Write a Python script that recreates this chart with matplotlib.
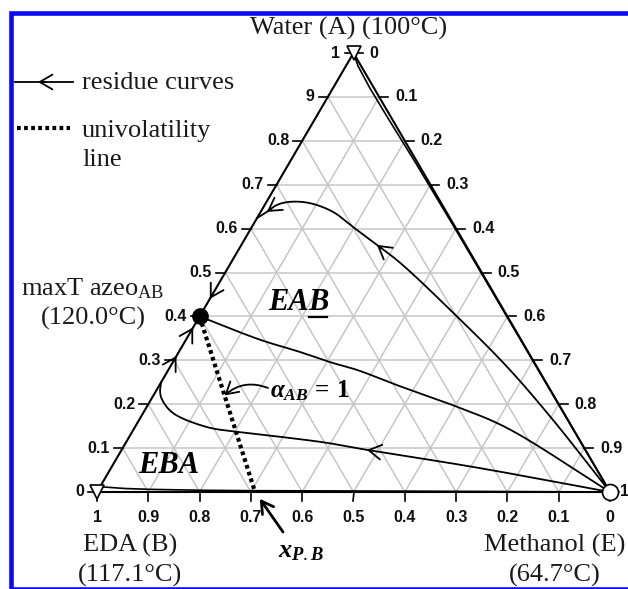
import numpy as np
import matplotlib
matplotlib.use("Agg")
import matplotlib.pyplot as plt
from matplotlib.lines import Line2D
from matplotlib.patches import Rectangle

plt.rcParams['mathtext.fontset'] = 'custom'
plt.rcParams['mathtext.rm'] = 'Liberation Serif'
plt.rcParams['mathtext.it'] = 'Liberation Serif:italic:bold'
plt.rcParams['mathtext.bf'] = 'Liberation Serif:bold'

# ---------------- data (mole fractions) ----------------
tick_values = [0.0, 0.1, 0.2, 0.3, 0.4, 0.5, 0.6, 0.7, 0.8, 0.9, 1.0]
left_tick_labels = ['0', '0.1', '0.2', '0.3', '0.4', '0.5', '0.6', '0.7', '0.8', '9', '1']     # water x_A
right_tick_labels = ['0', '0.1', '0.2', '0.3', '0.4', '0.5', '0.6', '0.7', '0.8', '0.9', '1']  # methanol x_E
bottom_tick_labels = ['0', '0.1', '0.2', '0.3', '0.4', '0.5', '0.6', '0.7', '0.8', '0.9', '1']  # EDA x_B
grid_values = [0.1, 0.2, 0.3, 0.4, 0.5, 0.6, 0.7, 0.8, 0.9]

# residue curve 1 : methanol -> near water -> A-B edge
rc1_xA = [0.0, 0.164, 0.285, 0.399, 0.522, 0.563, 0.597, 0.638, 0.658, 0.661, 0.654, 0.638, 0.624]
rc1_xE = [1.0, 0.807, 0.657, 0.503, 0.330, 0.264, 0.208, 0.141, 0.086, 0.046, 0.024, 0.012, 0.0]
# residue curve 2 : azeotrope <- methanol
rc2_xA = [0.40, 0.347, 0.319, 0.296, 0.278, 0.241, 0.194, 0.146, 0.0]
rc2_xE = [0.0, 0.144, 0.236, 0.306, 0.368, 0.470, 0.605, 0.726, 1.0]
# residue curve 3 : methanol -> EBA region -> A-B edge
rc3_xA = [0.0, 0.057, 0.096, 0.112, 0.123, 0.137, 0.148, 0.180, 0.210, 0.228, 0.250]
rc3_xE = [1.0, 0.705, 0.478, 0.392, 0.315, 0.205, 0.140, 0.058, 0.022, 0.009, 0.0]
# residue curve 4 : hugging the A-E edge
rc4_xA = [0.0, 0.3, 0.6, 0.75, 0.85, 0.92, 0.97, 1.0]
rc4_xB = [0.0, 0.001, 0.002, 0.004, 0.007, 0.008, 0.006, 0.0]
# residue curve 5 : hugging the B-E edge
rc5_xE = [1.0, 0.6, 0.3, 0.2, 0.1, 0.05, 0.0]
rc5_xA = [0.0, 0.002, 0.003, 0.004, 0.006, 0.008, 0.012]

# arrows on the A-B edge (x_A position, +1 = towards A, -1 = towards B)
edge_arrow_xA = [0.31, 0.375, 0.44]
edge_arrow_dir = [1, 1, -1]

azeo_xA = 0.40          # maxT azeotrope A-B
univ_start_xA = 0.40    # univolatility line start on A-B edge
univ_end_xB = 0.692     # x_P,B on B-E edge

H = np.sqrt(3) / 2


def cart(xA, xE):
    xA = np.asarray(xA, float)
    xE = np.asarray(xE, float)
    return xE + 0.5 * xA, xA * H


def catmull(px, py, n=25):
    pts = np.column_stack([px, py])
    P = np.vstack([2 * pts[0] - pts[1], pts, 2 * pts[-1] - pts[-2]])
    out = []
    for i in range(1, len(P) - 2):
        p0, p1, p2, p3 = P[i - 1], P[i], P[i + 1], P[i + 2]
        t0 = 0.0
        t1 = t0 + np.linalg.norm(p1 - p0) ** 0.5
        t2 = t1 + np.linalg.norm(p2 - p1) ** 0.5
        t3 = t2 + np.linalg.norm(p3 - p2) ** 0.5
        t = np.linspace(t1, t2, n)[:, None]
        A1 = (t1 - t) / (t1 - t0) * p0 + (t - t0) / (t1 - t0) * p1
        A2 = (t2 - t) / (t2 - t1) * p1 + (t - t1) / (t2 - t1) * p2
        A3 = (t3 - t) / (t3 - t2) * p2 + (t - t2) / (t3 - t2) * p3
        B1 = (t2 - t) / (t2 - t0) * A1 + (t - t0) / (t2 - t0) * A2
        B2 = (t3 - t) / (t3 - t1) * A2 + (t - t1) / (t3 - t1) * A3
        C = (t2 - t) / (t2 - t1) * B1 + (t - t1) / (t2 - t1) * B2
        out.append(C if i == 1 else C[1:])
    out = np.vstack(out)
    return out[:, 0], out[:, 1]


W, Hpx = 628, 589
fig = plt.figure(figsize=(W / 100, Hpx / 100), dpi=100)
fig.patch.set_facecolor('white')
ax = fig.add_axes([97 / W, 1 - 492 / Hpx, 513 / W, 439 / Hpx])
ax.set_xlim(0, 1)
ax.set_ylim(0, H)
ax.axis('off')


def fp(px, py):
    return (px / W, 1 - py / Hpx)


def off(pt, dx, dy):
    d = ax.transData.transform(pt) + np.array([dx, dy])
    return ax.transData.inverted().transform(d)


GRID = '#c6c6c6'
# grid
for v in grid_values:
    for (a1, e1, a2, e2) in [(v, 0, v, 1 - v), (0, v, 1 - v, v), (0, 1 - v, 1 - v, 0)]:
        x, y = cart([a1, a2], [e1, e2])
        ax.plot(x, y, color=GRID, lw=1.1, zorder=1, solid_capstyle='butt')

# triangle edges
x, y = cart([0, 1, 0, 0], [0, 0, 1, 0])
ax.plot(x, y, color='black', lw=1.5, zorder=3, clip_on=False)

TF = dict(family='Liberation Sans', fontsize=11.5, weight='bold', color='#111111')
# ticks and tick labels
for v, lab in zip(tick_values, left_tick_labels):
    p = np.array(cart(v, 0.0))
    q = off(p, -9, 0)
    ax.plot([p[0], q[0]], [p[1], q[1]], color='black', lw=1.2, clip_on=False)
    ax.annotate(lab, xy=p, xytext=(-13, 0), textcoords='offset pixels',
                ha='right', va='center', annotation_clip=False, **TF)
for v, lab in zip(tick_values, right_tick_labels):
    p = np.array(cart(1 - v, v))
    q = off(p, 9, 0)
    ax.plot([p[0], q[0]], [p[1], q[1]], color='black', lw=1.2, clip_on=False)
    dx = 16 if v < 1.0 else 10
    ax.annotate(lab, xy=p, xytext=(dx, 0), textcoords='offset pixels',
                ha='left', va='center', annotation_clip=False, **TF)
for v, lab in zip(tick_values, bottom_tick_labels):
    p = np.array(cart(0.0, 1 - v))
    q = off(p, 0, -9)
    ax.plot([p[0], q[0]], [p[1], q[1]], color='black', lw=1.2, clip_on=False)
    ax.annotate(lab, xy=p, xytext=(0, -25), textcoords='offset pixels',
                ha='center', va='center', annotation_clip=False, **TF)

AR = dict(arrowstyle='->,head_length=0.65,head_width=0.38', color='black',
          lw=1.3, shrinkA=0, shrinkB=0, mutation_scale=14)


def chevron(tip, back):
    ax.annotate('', xy=tip, xytext=back, arrowprops=AR, annotation_clip=False, zorder=6)


# residue curves
curves = []
for xa, xe in [(rc1_xA, rc1_xE), (rc2_xA, rc2_xE), (rc3_xA, rc3_xE)]:
    cx, cy = cart(xa, xe)
    sx, sy = catmull(cx, cy)
    ax.plot(sx, sy, color='black', lw=1.3, zorder=4, clip_on=False)
    curves.append((cx, cy))

rc4_xE = [1 - a - b for a, b in zip(rc4_xA, rc4_xB)]
x, y = cart(rc4_xA, rc4_xE)
ax.plot(x, y, color='black', lw=1.2, zorder=4, clip_on=False)
x, y = cart(rc5_xA, rc5_xE)
ax.plot(x, y, color='black', lw=1.2, zorder=4, clip_on=False)

# arrows on residue curves (at data points, pointing in curve direction)
for ci, idx in [(0, 5), (0, 11), (2, 2)]:
    cx, cy = curves[ci]
    tip = (cx[idx], cy[idx])
    back = (cx[idx - 1], cy[idx - 1])
    b = np.array(back) - np.array(tip)
    b = np.array(tip) + b / np.linalg.norm(b) * 0.01
    chevron(tip, b)

for a, d in zip(edge_arrow_xA, edge_arrow_dir):
    tip = cart(a, 0.0)
    back = cart(a - 0.01 * d, 0.0)
    chevron(tip, back)

# univolatility line
DOT = (0, (0.9, 0.8))
ux, uy = cart([univ_start_xA, 0.0], [0.0, 1 - univ_end_xB])
ax.plot(ux, uy, color='black', lw=3.0, linestyle=DOT, zorder=5,
        dash_capstyle='butt', clip_on=False)

# vertex / azeotrope markers
x, y = cart(1.0, 0.0)
ax.plot(x, y, marker='v', ms=10, mfc='white', mec='black', mew=1.2, zorder=8, clip_on=False)
x, y = cart(0.0, 0.0)
ax.plot(x, y, marker='v', ms=10, mfc='white', mec='black', mew=1.2, zorder=8, clip_on=False)
x, y = cart(0.0, 1.0)
ax.plot(x, y, marker='o', ms=11.5, mfc='white', mec='black', mew=1.2, zorder=8, clip_on=False)
x, y = cart(azeo_xA, 0.0)
ax.plot(x, y, marker='o', ms=11, mfc='black', mec='black', zorder=8, clip_on=False)

# annotations
SER = dict(family='Liberation Serif', fontsize=19, color='#1a1a1a')
p_alpha = np.array(cart(univ_start_xA, 0.0)) * (1 - 0.45) + np.array(cart(0.0, 1 - univ_end_xB)) * 0.45
ax.annotate('', xy=p_alpha, xytext=(268, Hpx - 388), textcoords='figure pixels',
            arrowprops=dict(arrowstyle='->,head_length=0.6,head_width=0.35', lw=1.3, color='black',
                            shrinkA=0, shrinkB=0, mutation_scale=14,
                            connectionstyle='arc3,rad=0.3'), zorder=7)
fig.text(*fp(270, 397), r'$\alpha_{AB}\,\mathbf{=\,1}$', ha='left', va='baseline',
         fontsize=18, color='black')

pend = cart(0.0, 1 - univ_end_xB)
ax.annotate('', xy=pend, xytext=(28, -40), textcoords='offset pixels',
            arrowprops=dict(arrowstyle='->,head_length=0.6,head_width=0.35', lw=2.0, color='black',
                            shrinkA=0, shrinkB=6, mutation_scale=14), annotation_clip=False)
fig.text(*fp(278, 557), r'$x_{P.B}$', ha='left', va='baseline', fontsize=19, color='black')

# region labels
BI = dict(family='Liberation Serif', fontsize=22, weight='bold', style='italic', color='black')
fig.text(*fp(138, 473), 'EBA', ha='left', va='baseline', **BI)
r = fig.canvas.get_renderer()
t1 = fig.text(*fp(268, 310), 'EA', ha='left', va='baseline', **BI)
bb1 = t1.get_window_extent(r)
t2 = fig.text(bb1.x1 / W, 1 - 310 / Hpx, 'B', ha='left', va='baseline', **BI)
bb2 = t2.get_window_extent(r)
fig.add_artist(Line2D([bb2.x0 / W, (bb2.x1 - 2) / W], [1 - 317 / Hpx, 1 - 317 / Hpx],
                      color='black', lw=1.6, transform=fig.transFigure))

# vertex labels
fig.text(*fp(250, 35), 'Water (A) (100°C)', ha='left', va='baseline', **SER)
fig.text(*fp(93, 295), r'maxT azeo$_{\mathrm{AB}}$', ha='center', va='baseline', **SER)
fig.text(*fp(93, 325), '(120.0°C)', ha='center', va='baseline', **SER)
fig.text(*fp(130, 552), 'EDA (B)', ha='center', va='baseline', **SER)
fig.text(*fp(130, 582), '(117.1°C)', ha='center', va='baseline', **SER)
fig.text(*fp(555, 552), 'Methanol (E)', ha='center', va='baseline', **SER)
fig.text(*fp(555, 582), '(64.7°C)', ha='center', va='baseline', **SER)

# legend
fig.add_artist(Line2D([15 / W, 73 / W], [1 - 82 / Hpx] * 2, color='black', lw=1.3,
                      transform=fig.transFigure))
ax.annotate('', xy=(38, Hpx - 82), xycoords='figure pixels', xytext=(46, Hpx - 82),
            textcoords='figure pixels', arrowprops=AR, annotation_clip=False)
fig.text(*fp(82, 89), 'residue curves', ha='left', va='baseline', **SER)
fig.add_artist(Line2D([17 / W, 70 / W], [1 - 128 / Hpx] * 2, color='black', lw=3.0,
                      linestyle=DOT, dash_capstyle='butt', transform=fig.transFigure))
fig.text(*fp(82, 137), 'univolatility', ha='left', va='baseline', **SER)
fig.text(*fp(82, 166), 'line', ha='left', va='baseline', **SER)

# blue frame
fig.add_artist(Rectangle((10.5 / W, 1 - 588.5 / Hpx), 700 / W, 576 / Hpx, fill=False,
                         edgecolor='#0a0af5', lw=3.3, transform=fig.transFigure, clip_on=False))

fig.savefig('out.png', dpi=100)
